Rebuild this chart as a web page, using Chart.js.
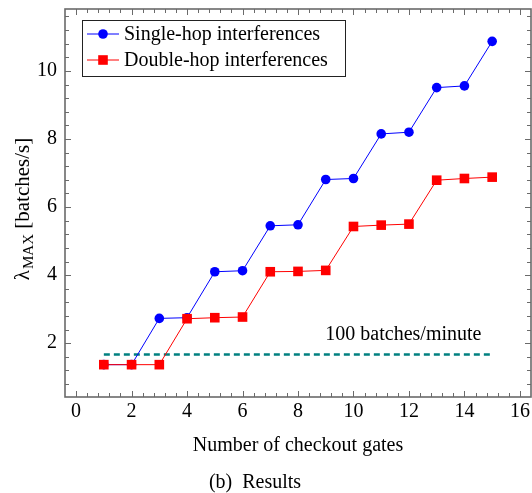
<!DOCTYPE html>
<html>
<head>
<meta charset="utf-8">
<script src="https://cdn.jsdelivr.net/npm/chart.js@4/dist/chart.umd.min.js"></script>
<style>
  html, body { margin: 0; padding: 0; background: #fff; }
  #c { display: block; }
</style>
</head>
<body>
<canvas id="c" width="532" height="493"></canvas>
<script>
// ---- data ----
const gates = [1, 2, 3, 4, 5, 6, 7, 8, 9, 10, 11, 12, 13, 14, 15];
const singleHop = [1.37, 1.37, 2.73, 2.75, 4.10, 4.13, 5.45, 5.48, 6.81, 6.84, 8.15, 8.20, 9.51, 9.56, 10.87];
const doubleHop = [1.37, 1.37, 1.37, 2.72, 2.75, 2.77, 4.10, 4.11, 4.14, 5.43, 5.47, 5.50, 6.79, 6.84, 6.88];
const thresholdX = [1, 15];
const thresholdValue = 1.667; // 100 batches/minute
const xTickValues = [0, 2, 4, 6, 8, 10, 12, 14, 16];
const yTickValues = [2, 4, 6, 8, 10];
const seriesNames = ['Single-hop interferences', 'Double-hop interferences'];
const thresholdLabel = '100 batches/minute';
const xTitle = 'Number of checkout gates';
const yTitleMain = 'λ';
const yTitleSub = 'MAX';
const yTitleRest = ' [batches/s]';
const caption = '(b)  Results';

const FONT = '"Liberation Serif", "Times New Roman", serif';
const BLUE = '#0000ff', RED = '#ff0000', TEAL = '#008080';
const FRAME = '#6a6a6a';

const toPts = (xs, ys) => xs.map((x, i) => ({ x, y: ys[i] }));

const decor = {
  id: 'decor',
  afterDraw(chart) {
    const ctx = chart.ctx;
    const a = chart.chartArea;
    const xs = chart.scales.x, ys = chart.scales.y;
    ctx.save();
    // inside, mirrored ticks
    ctx.strokeStyle = FRAME;
    ctx.lineWidth = 1;
    const major = 6, minor = 4;
    ctx.beginPath();
    for (let k = 0; k <= 41; k++) {
      const v = k * 0.4;
      if (v < xs.min || v > xs.max) continue;
      const p = Math.round(xs.getPixelForValue(v)) + 0.5;
      const len = (k % 5 === 0) ? major : minor;
      ctx.moveTo(p, a.bottom); ctx.lineTo(p, a.bottom - len);
      ctx.moveTo(p, a.top); ctx.lineTo(p, a.top + len);
    }
    for (let k = 0; k <= 40; k++) {
      const v = k * 0.4;
      if (v < ys.min || v > ys.max) continue;
      const p = Math.round(ys.getPixelForValue(v)) + 0.5;
      const len = (k % 5 === 0) ? major : minor;
      ctx.moveTo(a.left, p); ctx.lineTo(a.left + len, p);
      ctx.moveTo(a.right, p); ctx.lineTo(a.right - len, p);
    }
    ctx.stroke();
    // frame
    ctx.lineWidth = 1.6;
    ctx.strokeRect(a.left, a.top, a.right - a.left, a.bottom - a.top);

    // threshold label
    ctx.fillStyle = '#000';
    ctx.font = '20px ' + FONT;
    ctx.textAlign = 'center';
    ctx.textBaseline = 'middle';
    ctx.fillText(thresholdLabel, xs.getPixelForValue(11.8), ys.getPixelForValue(thresholdValue) - 20);

    // legend
    const lx = 82, ly = 20, lw = 263, lh = 56;
    ctx.fillStyle = '#fff';
    ctx.fillRect(lx, ly, lw, lh);
    ctx.strokeStyle = '#222';
    ctx.lineWidth = 1;
    ctx.strokeRect(lx + 0.5, ly + 0.5, lw, lh);
    const rows = [
      { y: 34, color: BLUE, shape: 'circle', text: seriesNames[0] },
      { y: 60, color: RED, shape: 'rect', text: seriesNames[1] }
    ];
    rows.forEach(r => {
      ctx.strokeStyle = r.color;
      ctx.lineWidth = 1;
      ctx.beginPath();
      ctx.moveTo(87, r.y); ctx.lineTo(119, r.y);
      ctx.stroke();
      ctx.fillStyle = r.color;
      if (r.shape === 'circle') {
        ctx.beginPath(); ctx.arc(103, r.y, 4.8, 0, Math.PI * 2); ctx.fill();
      } else {
        ctx.fillRect(103 - 4.8, r.y - 4.8, 9.6, 9.6);
      }
      ctx.fillStyle = '#000';
      ctx.font = '20px ' + FONT;
      ctx.textAlign = 'left';
      ctx.textBaseline = 'middle';
      ctx.fillText(r.text, 124, r.y + 1);
    });

    // y-axis title with subscript
    ctx.save();
    ctx.translate(29, 209);
    ctx.rotate(-Math.PI / 2);
    ctx.fillStyle = '#000';
    ctx.textBaseline = 'alphabetic';
    ctx.textAlign = 'left';
    ctx.font = '21px ' + FONT;
    const w1 = ctx.measureText(yTitleMain).width;
    const w3 = ctx.measureText(yTitleRest).width;
    ctx.font = '15px ' + FONT;
    const w2 = ctx.measureText(yTitleSub).width;
    const sx = -(w1 + w2 + w3 + 1) / 2;
    ctx.font = '21px ' + FONT;
    ctx.fillText(yTitleMain, sx, 0);
    ctx.font = '15px ' + FONT;
    ctx.fillText(yTitleSub, sx + w1 + 1, 4);
    ctx.font = '21px ' + FONT;
    ctx.fillText(yTitleRest, sx + w1 + w2 + 1, 0);
    ctx.restore();

    // caption
    ctx.fillStyle = '#000';
    ctx.font = '20px ' + FONT;
    ctx.textAlign = 'center';
    ctx.textBaseline = 'middle';
    ctx.fillText(caption, 255, 483);
    ctx.restore();
  }
};

function noPad(s) {
  s.paddingTop = 0; s.paddingBottom = 0; s.paddingLeft = 0; s.paddingRight = 0;
}

new Chart(document.getElementById('c'), {
  type: 'line',
  data: {
    datasets: [
      { label: 'threshold', data: toPts(thresholdX, [thresholdValue, thresholdValue]), borderColor: TEAL, borderWidth: 2.6, borderDash: [6, 4], pointRadius: 0, order: 3 },
      { label: seriesNames[0], data: toPts(gates, singleHop), borderColor: BLUE, backgroundColor: BLUE, borderWidth: 1, pointStyle: 'circle', pointRadius: 4.8, pointBorderWidth: 0, order: 2 },
      { label: seriesNames[1], data: toPts(gates, doubleHop), borderColor: RED, backgroundColor: RED, borderWidth: 1, pointStyle: 'rect', pointRadius: 6.8, pointBorderWidth: 0, order: 1 }
    ]
  },
  options: {
    responsive: false,
    animation: false,
    devicePixelRatio: 1,
    layout: { autoPadding: false, padding: { top: 9, right: 1, bottom: 23, left: 0 } },
    plugins: { legend: { display: false }, tooltip: { enabled: false } },
    elements: { line: { tension: 0 } },
    scales: {
      x: {
        type: 'linear', min: -0.4, max: 16.4,
        grid: { display: false, drawTicks: false },
        border: { display: false },
        afterBuildTicks: s => { s.ticks = xTickValues.map(v => ({ value: v })); },
        ticks: { color: '#000', font: { family: FONT, size: 20 }, padding: 3, maxRotation: 0, autoSkip: false },
        title: { display: true, text: xTitle, color: '#000', font: { family: FONT, size: 20 }, padding: { top: 0, bottom: 12 } },
        afterFit: s => { s.height = 73; noPad(s); }
      },
      y: {
        type: 'linear', min: 0.42, max: 11.82,
        grid: { display: false, drawTicks: false },
        border: { display: false },
        afterBuildTicks: s => { s.ticks = yTickValues.map(v => ({ value: v })); },
        ticks: { color: '#000', font: { family: FONT, size: 20 }, padding: 8, autoSkip: false },
        afterFit: s => { s.width = 65; noPad(s); }
      }
    }
  },
  plugins: [decor]
});
</script>
</body>
</html>
